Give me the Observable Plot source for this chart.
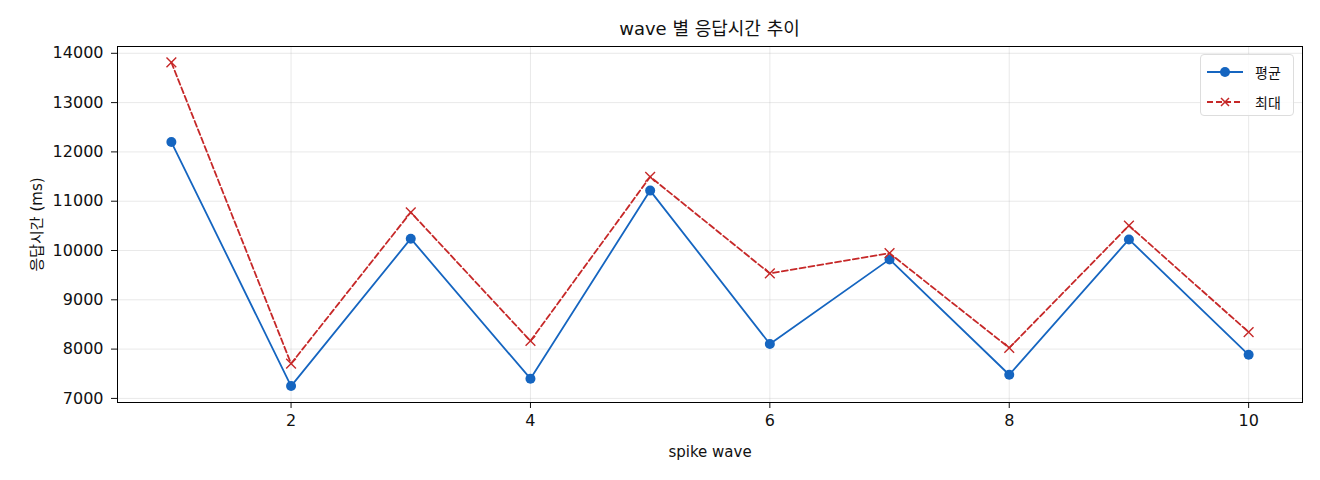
<!DOCTYPE html>
<html>
<head>
<meta charset="utf-8">
<script src="https://cdn.jsdelivr.net/npm/d3@7"></script>
<script src="https://cdn.jsdelivr.net/npm/@observablehq/plot@0.6"></script>
<style>
  html, body { margin: 0; padding: 0; background: #fff; }
  body { width: 1320px; height: 480px; position: relative; font-family: "DejaVu Sans", "Noto Sans CJK KR", sans-serif; }
  #title { height: 40px; line-height: 22px; padding-top: 18px; padding-left: 99px; box-sizing: border-box; text-align: center; font-size: 18px; color: #111; }
  #legend { position: absolute; left: 1200px; top: 54px; width: 94px; height: 62px; border: 1px solid #ddd; border-radius: 4px; background: rgba(255,255,255,0.85); box-sizing: border-box; font-size: 14px; color: #111; }
  .item { position: absolute; left: 4px; height: 20px; display: flex; align-items: center; }
  .item svg { margin-right: 10px; }
</style>
</head>
<body>
<div id="title">wave 별 응답시간 추이</div>
<div id="chart"></div>
<div id="legend">
  <div class="item" style="top:7px"><svg width="40" height="14"><line x1="2" y1="7" x2="38" y2="7" stroke="#1565c0" stroke-width="2"/><circle cx="20" cy="7" r="5" fill="#1565c0"/></svg>평균</div>
  <div class="item" style="top:37px"><svg width="40" height="14"><line x1="2" y1="7" x2="38" y2="7" stroke="#c62828" stroke-width="2" stroke-dasharray="6,3"/><path d="M16,3L24,11M24,3L16,11" stroke="#c62828" stroke-width="1.5"/></svg>최대</div>
</div>
<script>
const waves = [1, 2, 3, 4, 5, 6, 7, 8, 9, 10];
const avgMs = [12200, 7250, 10240, 7400, 11215, 8105, 9820, 7480, 10225, 7885];
const maxMs = [13815, 7705, 10775, 8165, 11495, 9535, 9945, 8025, 10505, 8345];
const xTicks = [2, 4, 6, 8, 10];
const yTicks = [7000, 8000, 9000, 10000, 11000, 12000, 13000, 14000];

const avgData = waves.map((w, i) => ({ wave: w, ms: avgMs[i] }));
const maxData = waves.map((w, i) => ({ wave: w, ms: maxMs[i] }));

const blue = "#1565c0";
const red = "#c62828";

const chart = Plot.plot({
  width: 1320,
  height: 440,
  marginLeft: 117,
  marginRight: 18,
  marginTop: 6,
  marginBottom: 78,
  style: { fontFamily: "'DejaVu Sans', 'Noto Sans CJK KR', sans-serif", fontSize: "15px", color: "#111", background: "#fff" },
  x: { domain: [0.55, 10.45] },
  y: { domain: [6917, 14138] },
  marks: [
    Plot.gridX(xTicks, { stroke: "#b0b0b0", strokeOpacity: 0.35, strokeWidth: 0.8 }),
    Plot.gridY(yTicks, { stroke: "#b0b0b0", strokeOpacity: 0.35, strokeWidth: 0.8 }),
    Plot.axisX(xTicks, { tickSize: 6, tickPadding: 6, fontSize: 16, tickFormat: d => String(d), label: null }),
    Plot.axisX({ ticks: [], tickSize: 0, label: "spike wave", labelAnchor: "center", labelArrow: "none", labelOffset: 54, fontSize: 15 }),
    Plot.axisY(yTicks, { tickSize: 6, tickPadding: 8, fontSize: 16, tickFormat: d => String(d), label: null }),
    Plot.axisY({ ticks: [], tickSize: 0, label: "응답시간 (ms)", labelAnchor: "center", labelArrow: "none", labelOffset: 86, fontSize: 15 }),
    Plot.line(avgData, { x: "wave", y: "ms", stroke: blue, strokeWidth: 1.8 }),
    Plot.dot(avgData, { x: "wave", y: "ms", fill: blue, r: 5 }),
    Plot.line(maxData, { x: "wave", y: "ms", stroke: red, strokeWidth: 1.8, strokeDasharray: "6,3" }),
    Plot.dot(maxData, { x: "wave", y: "ms", symbol: "times", stroke: red, strokeWidth: 1.4, r: 4.5 }),
    Plot.frame({ stroke: "#000", strokeWidth: 1 })
  ]
});
document.getElementById("chart").appendChild(chart);
</script>
</body>
</html>
